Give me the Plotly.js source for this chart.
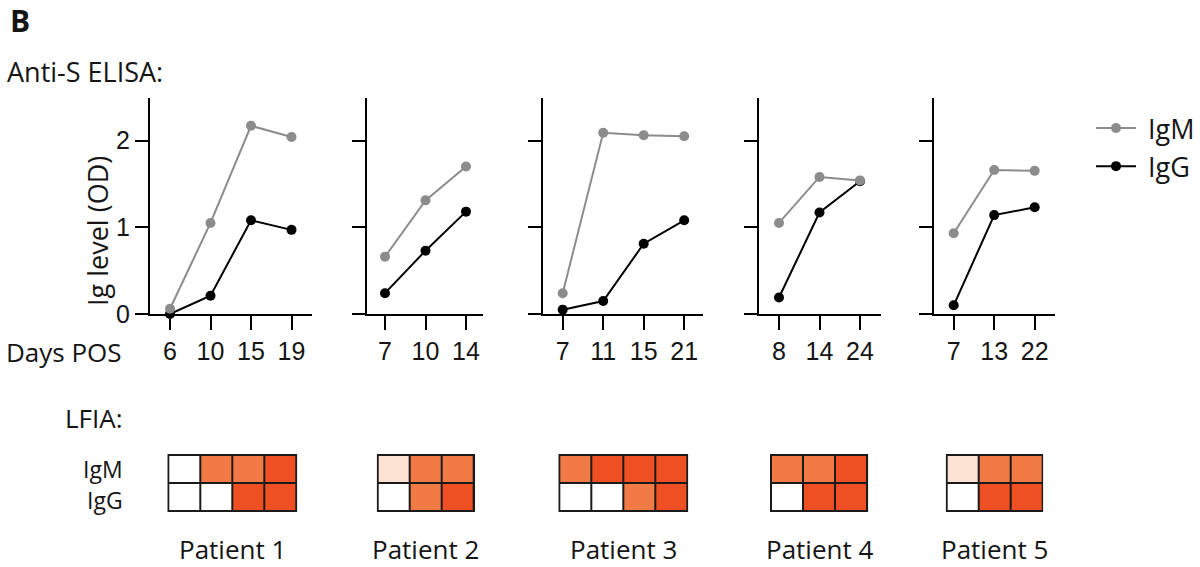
<!DOCTYPE html>
<html>
<head>
<meta charset="utf-8">
<script src="https://cdn.plot.ly/plotly-3.0.1.min.js"></script>
<style>html,body{margin:0;padding:0;background:#fff;}#chart{width:1200px;height:567px;}</style>
</head>
<body>
<div id="chart"></div>
<script>
// ---------- DATA ----------
const patients = ['Patient 1', 'Patient 2', 'Patient 3', 'Patient 4', 'Patient 5'];
const seriesNames = ['IgM', 'IgG'];

const daysP1 = [6, 10, 15, 19];
const igmP1  = [0.06, 1.05, 2.17, 2.04];
const iggP1  = [0.00, 0.21, 1.08, 0.97];

const daysP2 = [7, 10, 14];
const igmP2  = [0.66, 1.31, 1.70];
const iggP2  = [0.24, 0.73, 1.18];

const daysP3 = [7, 11, 15, 21];
const igmP3  = [0.24, 2.09, 2.06, 2.05];
const iggP3  = [0.05, 0.15, 0.81, 1.08];

const daysP4 = [8, 14, 24];
const igmP4  = [1.05, 1.58, 1.54];
const iggP4  = [0.19, 1.17, 1.53];

const daysP5 = [7, 13, 22];
const igmP5  = [0.93, 1.66, 1.65];
const iggP5  = [0.10, 1.14, 1.23];

// LFIA band intensity (0 = none, 1 = faint, 2 = medium, 3 = strong)
const lfiaIgmP1 = [0, 2, 2, 3];
const lfiaIggP1 = [0, 0, 3, 3];
const lfiaIgmP2 = [1, 2, 2];
const lfiaIggP2 = [0, 2, 3];
const lfiaIgmP3 = [2, 3, 3, 3];
const lfiaIggP3 = [0, 0, 2, 3];
const lfiaIgmP4 = [2, 2, 3];
const lfiaIggP4 = [0, 3, 3];
const lfiaIgmP5 = [1, 2, 2];
const lfiaIggP5 = [0, 3, 3];

const yTicks = [0, 1, 2];

// ---------- BUILD ----------
const W = 1200, H = 567;
const px = x => x / W;
const py = y => 1 - y / H;

const days = [daysP1, daysP2, daysP3, daysP4, daysP5];
const igm  = [igmP1, igmP2, igmP3, igmP4, igmP5];
const igg  = [iggP1, iggP2, iggP3, iggP4, iggP5];
const lfiaIgm = [lfiaIgmP1, lfiaIgmP2, lfiaIgmP3, lfiaIgmP4, lfiaIgmP5];
const lfiaIgg = [lfiaIggP1, lfiaIggP2, lfiaIggP3, lfiaIggP4, lfiaIggP5];

const numFont = 'Liberation Sans, Arial, sans-serif';
const txtFont = 'Open Sans, sans-serif';
const grey = '#8c8c8c';
const black = '#000000';
const txtColor = '#151515';
const NB = '\u00a0';

// pixel extents of line panels (axis start / end) and px per category
const lineExt = [[150, 312], [366.7, 482.7], [542.7, 703], [759.3, 881], [934, 1055]];
const firstTick = [170, 385, 562.7, 779, 953.7];
const ppu = 40.5;
const lineY = [98, 314];

// pixel extents of LFIA grids
const gridExt = [[167.3, 297.3], [376.7, 475], [558.3, 688.3], [770, 868.3], [945.7, 1043.3]];
const gridY = [454, 512];

const data = [];
const layout = {
  width: W, height: H,
  margin: {l: 0, r: 0, t: 0, b: 0},
  paper_bgcolor: '#ffffff',
  plot_bgcolor: '#ffffff',
  showlegend: true,
  legend: {
    x: 1, y: py(104), xanchor: 'right', yanchor: 'top',
    font: {family: txtFont, size: 27, color: txtColor},
    traceorder: 'reversed', itemwidth: 40, bgcolor: 'rgba(0,0,0,0)',
    tracegroupgap: 0
  },
  shapes: [],
  annotations: []
};

const cscale = [[0, '#ffffff'], [1/3, '#fde3d4'], [2/3, '#f27a45'], [1, '#ef5023']];

for (let i = 0; i < 5; i++) {
  const n = i + 1;
  const xa = 'x' + (n === 1 ? '' : n), ya = 'y' + (n === 1 ? '' : n);
  const xcat = days[i].map(String);

  data.push({
    type: 'scatter', mode: 'lines+markers', name: NB + seriesNames[1],
    x: xcat, y: igg[i], xaxis: xa, yaxis: ya,
    line: {color: black, width: 2}, marker: {color: black, size: 10},
    showlegend: i === 0, legendgroup: 'IgG', cliponaxis: false, hoverinfo: 'x+y'
  });
  data.push({
    type: 'scatter', mode: 'lines+markers', name: NB + seriesNames[0],
    x: xcat, y: igm[i], xaxis: xa, yaxis: ya,
    line: {color: grey, width: 2}, marker: {color: grey, size: 10},
    showlegend: i === 0, legendgroup: 'IgM', cliponaxis: false, hoverinfo: 'x+y'
  });

  const [x0, x1] = lineExt[i];
  const r0 = -(firstTick[i] - x0) / ppu;
  const r1 = r0 + (x1 - x0) / ppu;
  layout['xaxis' + (n === 1 ? '' : n)] = {
    domain: [px(x0), px(x1)], anchor: ya, type: 'category',
    range: [r0, r1], showline: true, linecolor: black, linewidth: 2,
    ticks: 'outside', ticklen: 14, tickwidth: 2, tickcolor: black,
    tickfont: {family: numFont, size: 25, color: txtColor},
    showgrid: false, zeroline: false, fixedrange: true
  };
  layout['yaxis' + (n === 1 ? '' : n)] = {
    domain: [py(lineY[1]), py(lineY[0])], anchor: xa,
    range: [0, 2.49], tickvals: yTicks, showline: true, linecolor: black, linewidth: 2,
    ticks: 'outside', ticklen: 13, tickwidth: 2, tickcolor: black,
    showticklabels: i === 0,
    tickfont: {family: numFont, size: 25, color: txtColor},
    showgrid: false, zeroline: false, fixedrange: true
  };

  // LFIA heatmap
  const hn = n + 5;
  const hx = 'x' + hn, hy = 'y' + hn;
  const nc = days[i].length;
  const ex = 0.03, ey = 0.035;
  data.push({
    type: 'heatmap', z: [lfiaIgg[i], lfiaIgm[i]], xaxis: hx, yaxis: hy,
    zmin: 0, zmax: 3, colorscale: cscale, showscale: false,
    xgap: 2, ygap: 2, hoverinfo: 'skip'
  });
  const [g0, g1] = gridExt[i];
  layout['xaxis' + hn] = {
    domain: [px(g0), px(g1)], anchor: hy, range: [-0.5 - ex, nc - 0.5 + ex],
    visible: false, fixedrange: true
  };
  layout['yaxis' + hn] = {
    domain: [py(gridY[1]), py(gridY[0])], anchor: hx, range: [-0.5 - ey, 1.5 + ey],
    visible: false, fixedrange: true
  };
  layout.shapes.push({
    type: 'rect', xref: hx, yref: hy, layer: 'below',
    x0: -0.5 - ex, x1: nc - 0.5 + ex, y0: -0.5 - ey, y1: 1.5 + ey,
    fillcolor: '#1a1a1a', line: {width: 0}
  });
  layout.annotations.push({
    text: patients[i], xref: 'paper', yref: 'paper',
    x: px((g0 + g1) / 2), y: py(549), xanchor: 'center', yanchor: 'middle',
    showarrow: false, font: {family: txtFont, size: 26, color: txtColor}
  });
}

const ann = (text, x, y, xa, size, bold, angle) => layout.annotations.push({
  text: bold ? '<b>' + text + '</b>' : text, xref: 'paper', yref: 'paper',
  x: px(x), y: py(y), xanchor: xa, yanchor: 'middle', showarrow: false,
  textangle: angle || 0,
  font: {family: txtFont, size: size, color: txtColor}
});
ann('B', 8, 20, 'left', 30, true);
ann('Anti-S ELISA:', 5, 71, 'left', 27, false);
ann('Days POS', 4, 352, 'left', 26, false);
ann('LFIA:', 63, 418, 'left', 26, false);
ann(seriesNames[0], 125, 469, 'right', 23, false);
ann(seriesNames[1], 125, 500, 'right', 23, false);
ann('Ig level (OD)', 97, 231, 'center', 27, false, -90);

Plotly.newPlot('chart', data, layout, {displayModeBar: false, staticPlot: true});
</script>
</body>
</html>
